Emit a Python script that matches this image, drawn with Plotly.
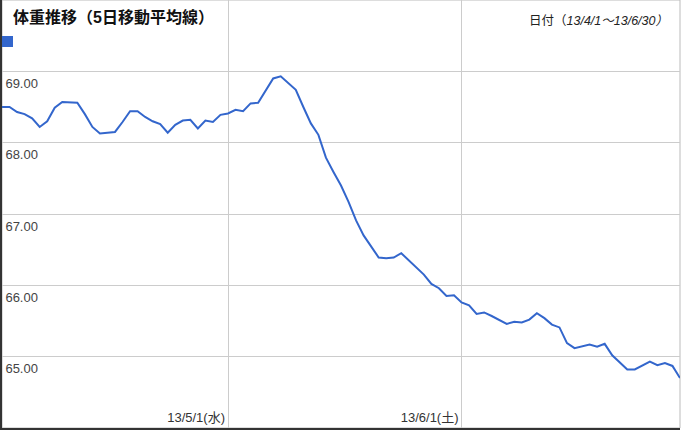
import plotly.graph_objects as go
import pandas as pd

# 5-day moving average of body weight, 2013/4/1 - 2013/6/30
dates = pd.date_range("2013-04-01", "2013-06-30", freq="D")
weight = [
    68.50, 68.50, 68.43, 68.40, 68.34, 68.22, 68.30, 68.49, 68.57, 68.57,
    68.56, 68.40, 68.22, 68.13, 68.14, 68.15, 68.29, 68.44, 68.44, 68.36,
    68.30, 68.26, 68.14, 68.25, 68.31, 68.32, 68.20, 68.31, 68.29, 68.39,
    68.41, 68.46, 68.44, 68.55, 68.56, 68.74, 68.90, 68.93, 68.83, 68.74,
    68.50, 68.27, 68.11, 67.79, 67.59, 67.40, 67.17, 66.91, 66.70, 66.54,
    66.39, 66.38, 66.39, 66.45, 66.35, 66.26, 66.15, 66.02, 65.96, 65.85,
    65.86, 65.76, 65.72, 65.60, 65.62, 65.57, 65.51, 65.46, 65.49, 65.48,
    65.52, 65.61, 65.54, 65.45, 65.41, 65.19, 65.12, 65.15, 65.17, 65.14,
    65.18, 65.02, 64.92, 64.82, 64.82, 64.87, 64.93, 64.88, 64.91, 64.87,
    64.70,
]

x_ticks = ["2013-05-01", "2013-06-01"]
x_labels = ["13/5/1(水)", "13/6/1(土)"]
y_ticks = [65, 66, 67, 68, 69]

title = "体重推移（5日移動平均線）"
period = "日付（<i>13/4/1～13/6/30）</i>"

FONT = "Liberation Sans, Arial, Noto Sans CJK JP"
BLUE = "#3366cc"

fig = go.Figure()
fig.add_trace(go.Scatter(x=dates, y=weight, mode="lines",
                         line=dict(color=BLUE, width=2), showlegend=False))

fig.update_layout(
    width=682, height=430,
    margin=dict(l=2, r=2, t=0, b=2, autoexpand=False),
    paper_bgcolor="white", plot_bgcolor="white",
    font=dict(family=FONT, size=13, color="#222"),
)

fig.update_xaxes(
    range=["2013-04-01", "2013-06-30"],
    tickvals=x_ticks, ticktext=x_labels,
    ticklabelposition="inside left",
    ticklabelstandoff=0, ticklabelshift=-2,
    tickfont=dict(size=13, color="#333"),
    showgrid=True, gridcolor="#cccccc", gridwidth=1,
    showline=True, linecolor="#333", linewidth=2,
    ticks="", zeroline=False, automargin=False,
)
fig.update_yaxes(
    range=[64, 70],
    tickvals=y_ticks, tickformat=".2f",
    ticklabelposition="inside bottom",
    ticklabelstandoff=2, ticklabelshift=3,
    tickfont=dict(size=13, color="#444"),
    showgrid=True, gridcolor="#cccccc", gridwidth=1,
    showline=True, linecolor="#333", linewidth=2,
    ticks="", zeroline=False, automargin=False,
)

# light frame on top / right
fig.add_shape(type="rect", xref="paper", yref="paper", x0=0, x1=1, y0=0, y1=1,
              line=dict(color="#bbbbbb", width=1), layer="below")

# legend swatch
fig.add_shape(type="rect", xref="paper", yref="paper",
              x0=0, x1=11 / 678, y0=1 - 47 / 428, y1=1 - 36 / 428,
              fillcolor=BLUE, line=dict(width=0))

fig.add_annotation(text="<b>" + title + "</b>", xref="paper", yref="paper",
                   x=9 / 678, y=1 - 6 / 428, xanchor="left", yanchor="top",
                   showarrow=False, font=dict(size=16, color="#111"))
fig.add_annotation(text=period, xref="paper", yref="paper",
                   x=668 / 678, y=1 - 12 / 428, xanchor="right", yanchor="top",
                   showarrow=False, font=dict(size=12.5, color="#222"))

fig.write_html("out.html", config={"displayModeBar": False},
               post_script="document.body.style.margin='0';")
